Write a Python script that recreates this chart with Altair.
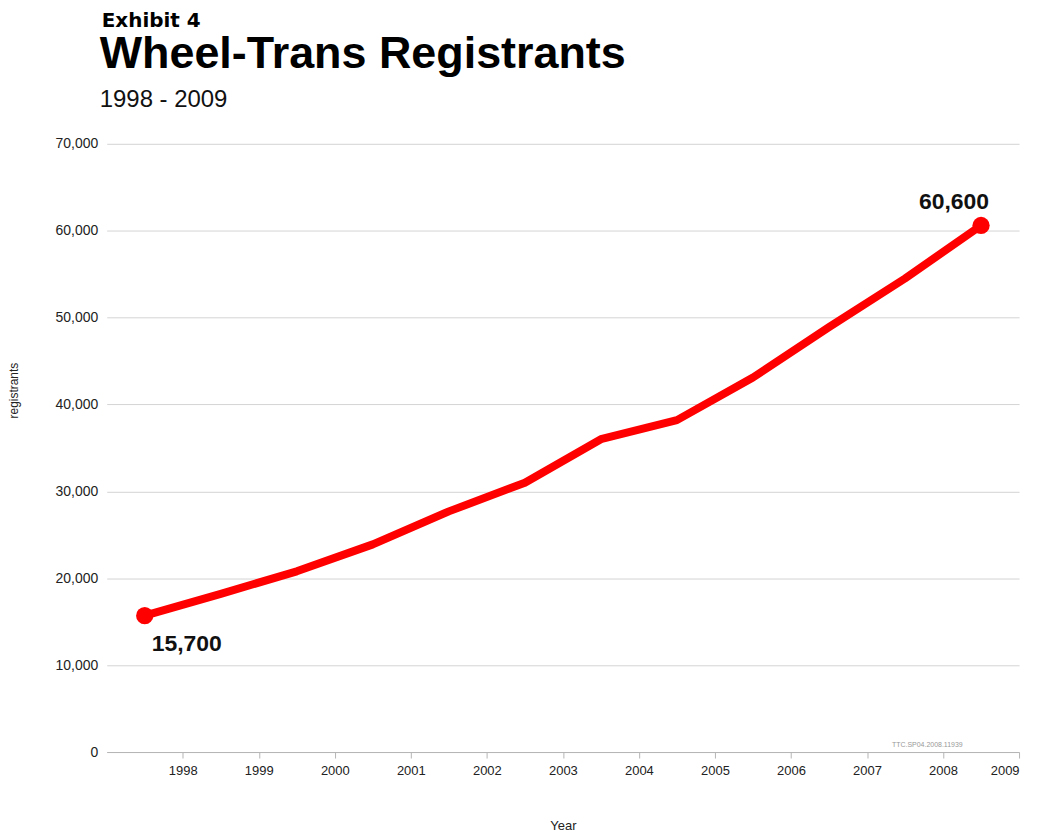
import altair as alt
import pandas as pd

years = [1998, 1999, 2000, 2001, 2002, 2003, 2004, 2005, 2006, 2007, 2008, 2009]
registrants = [15700, 18200, 20800, 23900, 27700, 31000, 36000, 38200, 43100, 48900, 54500, 60600]
tick_years = [1998, 1999, 2000, 2001, 2002, 2003, 2004, 2005, 2006, 2007, 2008, 2009]
y_ticks = [0, 10000, 20000, 30000, 40000, 50000, 60000, 70000]

df = pd.DataFrame({"year": years, "registrants": registrants})
ends = df.iloc[[0, -1]].copy()
first = df.iloc[[0]]
last = df.iloc[[-1]]

FONT = "Liberation Sans"
W, H = 915, 610

x_enc = alt.X(
    "year:Q",
    scale=alt.Scale(domain=[1997.5, 2009.5], nice=False, zero=False),
    axis=alt.Axis(
        values=[y + 0.5 for y in tick_years],
        labelExpr="floor(datum.value)",
        title="Year",
        grid=False,
        domain=True,
        domainColor="#b5b5b5",
        ticks=True,
        tickColor="#b5b5b5",
        tickSize=6,
        labelFont=FONT,
        labelFontSize=13,
        labelColor="#222222",
        labelPadding=7,
        titleFont=FONT,
        titleFontSize=13,
        titleFontWeight="normal",
        titleColor="#222222",
        titleY=68,
    ),
)
y_enc = alt.Y(
    "registrants:Q",
    scale=alt.Scale(domain=[0, 70000], nice=False),
    axis=alt.Axis(
        values=y_ticks,
        format=",.0f",
        title="registrants",
        grid=True,
        gridColor="#d4d4d4",
        gridWidth=1,
        domain=False,
        ticks=False,
        labelFont=FONT,
        labelFontSize=14,
        labelColor="#222222",
        labelPadding=9,
        titleFont=FONT,
        titleFontSize=12,
        titleFontWeight="normal",
        titleColor="#222222",
        titleX=-86,
        titleY=247,
        titleBaseline="bottom",
    ),
)

line = alt.Chart(df).mark_line(color="#ff0000", strokeWidth=8, strokeJoin="round", strokeCap="round").encode(
    x=x_enc, y=y_enc
)
points = alt.Chart(ends).mark_circle(color="#ff0000", size=300, opacity=1).encode(
    x="year:Q", y="registrants:Q"
)
lab_first = alt.Chart(first).mark_text(
    font=FONT, fontSize=23, fontWeight="bold", color="#111111", align="left", baseline="alphabetic", dx=7, dy=35
).encode(x="year:Q", y="registrants:Q", text=alt.Text("registrants:Q", format=",.0f"))
lab_last = alt.Chart(last).mark_text(
    font=FONT, fontSize=23, fontWeight="bold", color="#111111", align="right", baseline="alphabetic", dx=8, dy=-17
).encode(x="year:Q", y="registrants:Q", text=alt.Text("registrants:Q", format=",.0f"))

titles = pd.DataFrame({
    "t": ["Exhibit 4", "Wheel-Trans Registrants", "1998 - 2009", "TTC.SP04.2008.11939"],
})
exhibit = alt.Chart(titles.iloc[[0]]).mark_text(
    font="DejaVu Sans", fontSize=20, fontWeight="bold", color="#000000", align="left", baseline="alphabetic"
).encode(x=alt.value(-5), y=alt.value(-117), text="t:N")
main_title = alt.Chart(titles.iloc[[1]]).mark_text(
    font=FONT, fontSize=45, fontWeight="bold", color="#000000", align="left", baseline="alphabetic"
).encode(x=alt.value(-7), y=alt.value(-76), text="t:N")
subtitle = alt.Chart(titles.iloc[[2]]).mark_text(
    font=FONT, fontSize=24, color="#111111", align="left", baseline="alphabetic"
).encode(x=alt.value(-7), y=alt.value(-37), text="t:N")
watermark = alt.Chart(titles.iloc[[3]]).mark_text(
    font=FONT, fontSize=7, color="#999999", align="center", baseline="alphabetic"
).encode(x=alt.value(823), y=alt.value(-5 + H), text="t:N")

chart = alt.layer(line, points, lab_first, lab_last, exhibit, main_title, subtitle, watermark).properties(
    width=W,
    height=H,
    background="white",
    autosize=alt.AutoSizeParams(type="none"),
    padding={"left": 99, "top": 135, "right": 20, "bottom": 85},
).configure_view(stroke=None)

chart.save("out.html", embed_options={"renderer": "svg", "actions": False})
